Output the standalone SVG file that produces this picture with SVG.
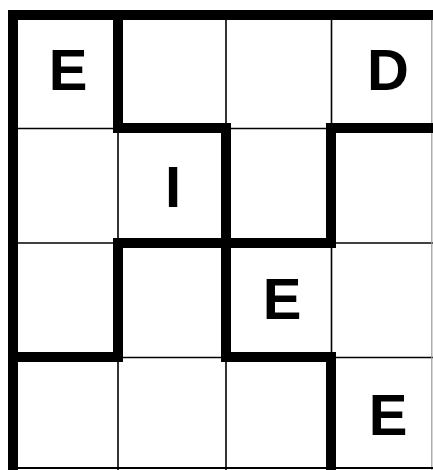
<svg xmlns="http://www.w3.org/2000/svg" width="433" height="470" viewBox="0 0 433 470">
<style>
.thin{stroke:#000;stroke-width:1.6;fill:none}
.thick{stroke:#000;stroke-width:10;fill:none;stroke-linecap:butt}
.edge{stroke:#999;stroke-width:1.2;fill:none}
.ltr{font-family:"Liberation Sans",Arial,sans-serif;font-weight:bold;font-size:58px;fill:#000;text-anchor:middle}
</style>
<rect x="0" y="0" width="433" height="470" fill="#fff"/>
<g id="grid-thin">
<line class="thin" x1="118" y1="10" x2="118" y2="470"/>
<line class="thin" x1="226" y1="10" x2="226" y2="470"/>
<line class="thin" x1="331.5" y1="10" x2="331.5" y2="470"/>
<line class="thin" x1="8" y1="128.5" x2="433" y2="128.5"/>
<line class="thin" x1="8" y1="243" x2="433" y2="243"/>
<line class="thin" x1="8" y1="357.5" x2="433" y2="357.5"/>
<line class="edge" x1="431.8" y1="10" x2="431.8" y2="470"/>
<line x1="8" y1="468" x2="433" y2="468" stroke="#000" stroke-width="2.2"/>
</g>
<g id="regions">
<line class="thick" x1="8" y1="15" x2="433" y2="15"/>
<line class="thick" x1="13" y1="10" x2="13" y2="470"/>
<line class="thick" x1="118" y1="10" x2="118" y2="133"/>
<line class="thick" x1="113" y1="128" x2="231" y2="128"/>
<line class="thick" x1="326" y1="128" x2="433" y2="128"/>
<line class="thick" x1="226" y1="123" x2="226" y2="362"/>
<line class="thick" x1="331" y1="123" x2="331" y2="248"/>
<line class="thick" x1="113" y1="243" x2="336" y2="243"/>
<line class="thick" x1="118" y1="238" x2="118" y2="362"/>
<line class="thick" x1="8" y1="357" x2="123" y2="357"/>
<line class="thick" x1="221" y1="357" x2="336" y2="357"/>
<line class="thick" x1="331" y1="352" x2="331" y2="470"/>
</g>
<g id="letters">
<text class="ltr" x="68" y="90">E</text>
<text class="ltr" x="388" y="90">D</text>
<text class="ltr" x="173" y="207">I</text>
<text class="ltr" x="282" y="319">E</text>
<text class="ltr" x="388" y="435">E</text>
</g>
</svg>
